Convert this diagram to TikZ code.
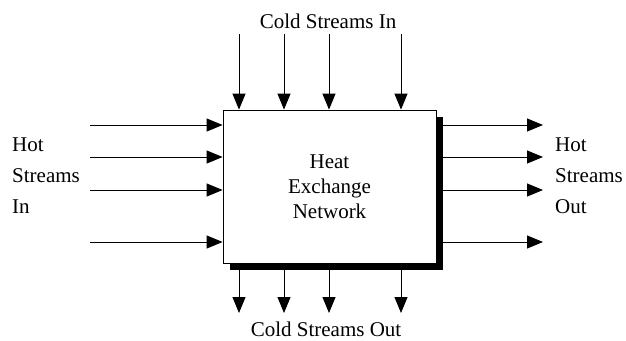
\documentclass[tikz,border=0pt]{standalone}
\usepackage{fontspec}
\setmainfont{Liberation Serif}
\usetikzlibrary{arrows.meta, positioning}

\begin{document}
\begin{tikzpicture}[x=1pt, y=-1pt,
                box/.style={rectangle, draw=black, fill=white, line width=0.8pt,
                            minimum width=213pt, minimum height=153pt, align=center,
                            font=\fontsize{21}{25}\selectfont},
                shadowbox/.style={rectangle, fill=black, draw=none,
                            minimum width=213pt, minimum height=153pt},
                lbl/.style={font=\fontsize{21}{31}\selectfont, align=left, inner sep=0pt},
                arr/.style={-{Triangle[length=16pt, width=13pt]}, line width=1pt}
            ]
                \useasboundingbox (0,0) rectangle (626,340);

                \node[shadowbox] (shd) at (336.5,193.5) {};
                \node[box] (hen) at (329.5,186.5) {Heat\\Exchange\\Network};

                % stream end points
                \coordinate (hi1) at (90,125);
                \coordinate (hi2) at (90,157);
                \coordinate (hi3) at (90,190);
                \coordinate (hi4) at (90,242);
                \coordinate (ho1) at (543,125);
                \coordinate (ho2) at (543,157);
                \coordinate (ho3) at (543,190);
                \coordinate (ho4) at (543,242);
                \coordinate (ci1) at (239,34);
                \coordinate (ci2) at (284,34);
                \coordinate (ci3) at (329,34);
                \coordinate (ci4) at (401,34);
                \coordinate (co1) at (239,313);
                \coordinate (co2) at (284,313);
                \coordinate (co3) at (329,313);
                \coordinate (co4) at (401,313);

                \draw[arr] (hi1) -- (hi1 -| hen.west);
                \draw[arr] (hi2) -- (hi2 -| hen.west);
                \draw[arr] (hi3) -- (hi3 -| hen.west);
                \draw[arr] (hi4) -- (hi4 -| hen.west);

                \draw[arr] (ho1 -| shd.east) -- (ho1);
                \draw[arr] (ho2 -| shd.east) -- (ho2);
                \draw[arr] (ho3 -| shd.east) -- (ho3);
                \draw[arr] (ho4 -| shd.east) -- (ho4);

                \draw[arr] (ci1) -- (ci1 |- hen.north);
                \draw[arr] (ci2) -- (ci2 |- hen.north);
                \draw[arr] (ci3) -- (ci3 |- hen.north);
                \draw[arr] (ci4) -- (ci4 |- hen.north);

                \draw[arr] (co1 |- shd.south) -- (co1);
                \draw[arr] (co2 |- shd.south) -- (co2);
                \draw[arr] (co3 |- shd.south) -- (co3);
                \draw[arr] (co4 |- shd.south) -- (co4);

                \node[lbl, anchor=west] (hotin) at (12,176) {Hot\\Streams\\In};
                \node[lbl, anchor=west] (hotout) at (555,176) {Hot\\Streams\\Out};
                \node[lbl] (coldin) at (328,21) {Cold Streams In};
                \node[lbl] (coldout) at (326,329) {Cold Streams Out};
            \end{tikzpicture}
\end{document}
